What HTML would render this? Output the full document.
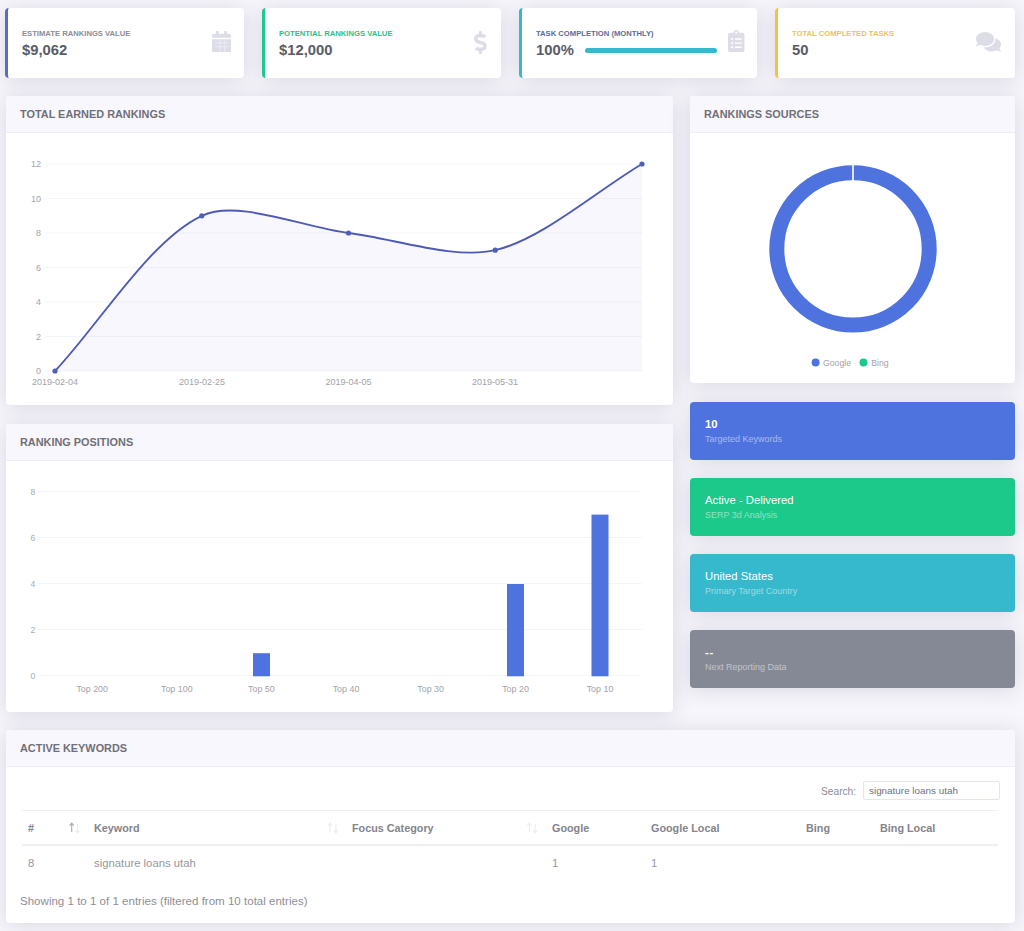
<!DOCTYPE html>
<html><head><meta charset="utf-8">
<style>
*{box-sizing:border-box;margin:0;padding:0}
html,body{width:1024px;height:931px;overflow:hidden;background:#f7f6fc;font-family:"Liberation Sans",sans-serif;position:relative}
.card{position:absolute;background:#fff;border-radius:4px;box-shadow:0 2px 21px rgba(62,58,90,.16)}
.tc{top:8px;height:70px;width:239px;border-left:3px solid #4e73df}
.lbl{position:absolute;left:14px;top:21px;font-size:7.65px;font-weight:bold;text-transform:uppercase;white-space:nowrap;letter-spacing:0}
.val{position:absolute;left:14px;top:33.5px;font-size:14.8px;font-weight:bold;color:#5a5c69;white-space:nowrap}
.ico{position:absolute}
.hdr{position:absolute;left:0;top:0;right:0;height:37px;background:#f8f7fd;border-bottom:1px solid #eeedf6;border-radius:4px 4px 0 0}
.hdr span{position:absolute;left:14px;top:11.6px;font-size:10.9px;font-weight:bold;color:#707078;white-space:nowrap}
.abs{position:absolute;white-space:nowrap}
.cc{left:690px;width:325px;height:57.5px;color:#fff}
.cc .t{position:absolute;left:15px;top:16px;font-size:11.3px}
.cc .s{position:absolute;left:15px;top:32px;font-size:9px;color:rgba(255,255,255,.5)}
.th{position:absolute;top:822px;font-size:10.8px;font-weight:bold;color:#84848c;white-space:nowrap}
.td{position:absolute;top:857px;font-size:11.3px;color:#96969e;white-space:nowrap}
</style></head><body>

<!-- top cards -->
<div class="card tc" style="left:5px;border-left-color:#5a6cc0">
  <div class="lbl" style="color:#8a8b95">Estimate Rankings Value</div>
  <div class="val">$9,062</div>
  <svg class="ico" style="left:203.5px;top:22.6px" width="19" height="21.7" viewBox="0 0 448 512"><path fill="#dddde8" d="M12 192h424c6.6 0 12 5.4 12 12v260c0 26.5-21.5 48-48 48H48c-26.5 0-48-21.5-48-48V204c0-6.6 5.4-12 12-12zm436-44v-36c0-26.5-21.5-48-48-48h-48V12c0-6.6-5.4-12-12-12h-40c-6.6 0-12 5.4-12 12v52H160V12c0-6.6-5.4-12-12-12h-40c-6.6 0-12 5.4-12 12v52H48C21.5 64 0 85.5 0 112v36c0 6.6 5.4 12 12 12h424c6.6 0 12-5.4 12-12z"/><g fill="#ececf3"><rect x="60" y="270" width="330" height="22"/><rect x="60" y="360" width="330" height="22"/><rect x="180" y="200" width="22" height="300"/><rect x="290" y="200" width="22" height="300"/></g></svg>
</div>
<div class="card tc" style="left:262px;border-left-color:#1cc88a">
  <div class="lbl" style="color:#2bbf8a">Potential Rankings Value</div>
  <div class="val">$12,000</div>
  <svg class="ico" style="left:208.8px;top:22.7px" width="12.9" height="23" viewBox="0 0 288 512"><path fill="#dddde8" d="M209.2 233.4l-108-31.6C88.7 198.2 80 186.5 80 173.5c0-16.3 13.2-29.5 29.5-29.5h66.3c12.2 0 24.2 3.7 34.2 10.5 6.1 4.1 14.300 3.1 19.5-2l34.8-34c7.1-6.9 6.1-18.4-1.8-24.5C238 74.8 207.4 64.1 176 64V16c0-8.8-7.2-16-16-16h-32c-8.8 0-16 7.2-16 16v48h-2.5C45.8 64-5.4 118.7.5 183.6c4.2 46.1 39.4 83.6 83.8 96.6l102.5 30c12.5 3.7 21.2 15.300 21.2 28.3 0 16.3-13.2 29.5-29.5 29.5h-66.3C100 368 88 364.3 78 357.5c-6.1-4.1-14.3-3.1-19.5 2l-34.8 34c-7.1 6.9-6.1 18.4 1.8 24.5 24.5 19.2 55.1 29.9 86.5 30v48c0 8.8 7.2 16 16 16h32c8.8 0 16-7.2 16-16v-48.2c46.6-.9 90.3-28.6 105.7-72.7 21.5-61.6-14.6-124.8-72.5-141.7z"/></svg>
</div>
<div class="card tc" style="left:519px;width:238px;border-left-color:#36b9cc">
  <div class="lbl" style="color:#5a6d9a">Task Completion (Monthly)</div>
  <div class="val">100%</div>
  <div class="abs" style="left:63px;top:40px;width:132px;height:5px;border-radius:3px;background:#36b9cc"></div>
  <svg class="ico" style="left:206px;top:22.4px" width="16.5" height="22" viewBox="0 0 384 512"><path fill="#dddde8" fill-rule="evenodd" d="M336 64h-80c0-35.3-28.7-64-64-64s-64 28.7-64 64H48C21.5 64 0 85.5 0 112v352c0 26.5 21.5 48 48 48h288c26.5 0 48-21.5 48-48V112c0-26.5-21.5-48-48-48zM96 424c-13.3 0-24-10.7-24-24s10.7-24 24-24 24 10.7 24 24-10.7 24-24 24zm0-96c-13.3 0-24-10.7-24-24s10.7-24 24-24 24 10.7 24 24-10.7 24-24 24zm0-96c-13.3 0-24-10.7-24-24s10.7-24 24-24 24 10.7 24 24-10.7 24-24 24zm96-192c13.3 0 24 10.7 24 24s-10.7 24-24 24-24-10.7-24-24 10.7-24 24-24zm128 368c0 4.4-3.6 8-8 8H168c-4.4 0-8-3.6-8-8v-16c0-4.4 3.6-8 8-8h144c4.4 0 8 3.6 8 8v16zm0-96c0 4.4-3.6 8-8 8H168c-4.4 0-8-3.6-8-8v-16c0-4.4 3.6-8 8-8h144c4.4 0 8 3.6 8 8v16zm0-96c0 4.4-3.6 8-8 8H168c-4.4 0-8-3.6-8-8v-16c0-4.4 3.6-8 8-8h144c4.4 0 8 3.6 8 8v16z"/></svg>
</div>
<div class="card tc" style="left:775px;width:240px;border-left-color:#f6c23e">
  <div class="lbl" style="color:#e6c466">Total Completed Tasks</div>
  <div class="val">50</div>
  <svg class="ico" style="left:197.8px;top:24.3px" width="25" height="19.45" viewBox="0 32 576 448"><path fill="#dddde8" d="M416 192c0-88.4-93.1-160-208-160S0 103.6 0 192c0 34.3 14.1 65.9 38 92-13.4 30.2-35.5 54.2-35.8 54.5-2.2 2.3-2.8 5.7-1.5 8.7S4.8 352 8 352c36.6 0 66.9-12.3 88.7-25 32.2 15.7 70.3 25 111.3 25 114.9 0 208-71.6 208-160zm122 220c23.9-26 38-57.7 38-92 0-66.9-53.5-124.2-129.3-148.1.9 6.6 1.3 13.3 1.3 20.1 0 105.9-107.7 192-240 192-10.8 0-21.3-.8-31.7-1.9C207.8 439.6 281.8 480 368 480c41 0 79.1-9.2 111.3-25 21.8 12.7 52.1 25 88.7 25 3.2 0 6.1-1.9 7.3-4.8 1.3-2.9.7-6.3-1.5-8.7-.3-.3-22.4-24.2-35.8-54.5z"/></svg>
</div>

<!-- total earned rankings -->
<div class="card" style="left:6px;top:96px;width:667px;height:309px">
  <div class="hdr"><span>TOTAL EARNED RANKINGS</span></div>
</div>
<svg class="abs" style="left:0;top:0" width="1024" height="931">
  <g stroke="#f4f5f9" stroke-width="1">
    <line x1="45" y1="164" x2="642" y2="164"/>
    <line x1="45" y1="198.5" x2="642" y2="198.5"/>
    <line x1="45" y1="233" x2="642" y2="233"/>
    <line x1="45" y1="267.5" x2="642" y2="267.5"/>
    <line x1="45" y1="302" x2="642" y2="302"/>
    <line x1="45" y1="336.5" x2="642" y2="336.5"/>
    <line x1="45" y1="371" x2="642" y2="371"/>
  </g>
  <path d="M55.0 371.0 C99.0 324.4 149.7 240.2 201.8 215.8 C237.8 198.8 304.5 227.8 348.5 233.0 C392.5 238.2 454.3 259.9 495.2 250.2 C542.4 239.2 598.0 189.9 642.0 164.0 L642 371 L55 371 Z" fill="rgba(120,100,240,0.05)"/>
  <path d="M55.0 371.0 C99.0 324.4 149.7 240.2 201.8 215.8 C237.8 198.8 304.5 227.8 348.5 233.0 C392.5 238.2 454.3 259.9 495.2 250.2 C542.4 239.2 598.0 189.9 642.0 164.0" fill="none" stroke="#4d5bb5" stroke-width="1.9"/>
  <g fill="#4d5fb8">
    <circle cx="55" cy="371" r="2.6"/><circle cx="201.8" cy="215.8" r="2.6"/><circle cx="348.5" cy="233" r="2.6"/><circle cx="495.2" cy="250.2" r="2.6"/><circle cx="642" cy="164" r="2.6"/>
  </g>
  <g font-family="Liberation Sans" font-size="9" fill="#a3a3ab" text-anchor="end">
    <text x="41" y="167.3">12</text><text x="41" y="201.8">10</text><text x="41" y="236.3">8</text><text x="41" y="270.8">6</text><text x="41" y="305.3">4</text><text x="41" y="339.8">2</text><text x="41" y="374.3">0</text>
  </g>
  <g font-family="Liberation Sans" font-size="9" fill="#a3a3ab" text-anchor="middle">
    <text x="55" y="385">2019-02-04</text><text x="202" y="385">2019-02-25</text><text x="348.5" y="385">2019-04-05</text><text x="495" y="385">2019-05-31</text>
  </g>
</svg>

<!-- rankings sources -->
<div class="card" style="left:690px;top:96px;width:325px;height:287px">
  <div class="hdr"><span>RANKINGS SOURCES</span></div>
</div>
<svg class="abs" style="left:690px;top:96px" width="325" height="287">
  <circle cx="163" cy="152.9" r="76.2" fill="none" stroke="#4e73df" stroke-width="15"/>
  <line x1="163" y1="68" x2="163" y2="86" stroke="#fff" stroke-width="1.6"/>
  <circle cx="125.6" cy="266.6" r="4" fill="#4e73df"/>
  <circle cx="173.5" cy="266.6" r="4" fill="#1cc88a"/>
  <g font-family="Liberation Sans" font-size="8.7" fill="#a3a3ab">
    <text x="133" y="269.8">Google</text><text x="181.3" y="269.8">Bing</text>
  </g>
</svg>

<!-- colored cards -->
<div class="card cc" style="top:402px;background:#4e73df"><div class="t" style="font-weight:bold">10</div><div class="s">Targeted Keywords</div></div>
<div class="card cc" style="top:478px;background:#1cc88a"><div class="t">Active - Delivered</div><div class="s">SERP 3d Analysis</div></div>
<div class="card cc" style="top:554px;background:#36b9cc"><div class="t">United States</div><div class="s">Primary Target Country</div></div>
<div class="card cc" style="top:630px;background:#858995"><div class="t" style="font-weight:bold;letter-spacing:0.8px">--</div><div class="s">Next Reporting Data</div></div>

<!-- ranking positions -->
<div class="card" style="left:6px;top:424px;width:667px;height:288px">
  <div class="hdr"><span>RANKING POSITIONS</span></div>
</div>
<svg class="abs" style="left:0;top:0" width="1024" height="931">
  <g stroke="#f4f5f9" stroke-width="1">
    <line x1="38" y1="491.5" x2="642" y2="491.5"/>
    <line x1="38" y1="537.5" x2="642" y2="537.5"/>
    <line x1="38" y1="583.5" x2="642" y2="583.5"/>
    <line x1="38" y1="629.5" x2="642" y2="629.5"/>
    <line x1="38" y1="675.5" x2="642" y2="675.5"/>
  </g>
  <g fill="#4e73df">
    <rect x="253" y="653.2" width="17" height="23.1"/>
    <rect x="507" y="584" width="17" height="92.3"/>
    <rect x="591.5" y="514.6" width="17" height="161.7"/>
  </g>
  <g font-family="Liberation Sans" font-size="8.6" fill="#acacb4" text-anchor="middle">
    <text x="33" y="494.5">8</text><text x="33" y="540.5">6</text><text x="33" y="586.5">4</text><text x="33" y="632.5">2</text><text x="33" y="678.5">0</text>
  </g>
  <g font-family="Liberation Sans" font-size="8.9" fill="#a3a3ab" text-anchor="middle">
    <text x="92.2" y="692">Top 200</text><text x="176.8" y="692">Top 100</text><text x="261.4" y="692">Top 50</text><text x="346" y="692">Top 40</text><text x="430.6" y="692">Top 30</text><text x="515.5" y="692">Top 20</text><text x="600" y="692">Top 10</text>
  </g>
</svg>

<!-- active keywords -->
<div class="card" style="left:6px;top:730px;width:1009px;height:193px">
  <div class="hdr"><span>ACTIVE KEYWORDS</span></div>
</div>
<div class="abs" style="left:821px;top:785.5px;font-size:10.2px;color:#8c8c94">Search:</div>
<div class="abs" style="left:863px;top:781px;width:137px;height:19px;border:1px solid #e3e6f0;border-radius:2px;background:#fff"></div>
<div class="abs" style="left:869px;top:785px;font-size:9.9px;color:#6e707e">signature loans utah</div>
<div class="abs" style="left:22px;top:810px;width:976px;height:1px;background:#eef0f6"></div>
<div class="abs" style="left:22px;top:844px;width:976px;height:2px;background:#eef0f6"></div>
<div class="th" style="left:28px">#</div>
<svg class="abs" style="left:0;top:0" width="1024" height="931" fill="none" stroke-width="1.1">
  <g stroke="#a9aab2"><path d="M71.7 823.5 V832 M69.6 825.6 L71.7 823.2 L73.8 825.6"/></g>
  <g stroke="#ececf1"><path d="M77.6 824 V832.5 M75.5 830.4 L77.6 832.8 L79.7 830.4"/>
  <path d="M330 823.5 V832 M327.9 825.6 L330 823.2 L332.1 825.6"/><path d="M335.9 824 V832.5 M333.8 830.4 L335.9 832.8 L338 830.4"/>
  <path d="M529.4 823.5 V832 M527.3 825.6 L529.4 823.2 L531.5 825.6"/><path d="M535.3 824 V832.5 M533.2 830.4 L535.3 832.8 L537.4 830.4"/></g>
</svg>
<div class="th" style="left:94px">Keyword</div>
<div class="th" style="left:352px">Focus Category</div>
<div class="th" style="left:552px">Google</div>
<div class="th" style="left:651px">Google Local</div>
<div class="th" style="left:806px">Bing</div>
<div class="th" style="left:880px">Bing Local</div>
<div class="td" style="left:28px">8</div>
<div class="td" style="left:94px">signature loans utah</div>
<div class="td" style="left:552px">1</div>
<div class="td" style="left:651px">1</div>
<div class="abs" style="left:20px;top:895px;font-size:11.55px;color:#8e8e96">Showing 1 to 1 of 1 entries (filtered from 10 total entries)</div>

</body></html>
